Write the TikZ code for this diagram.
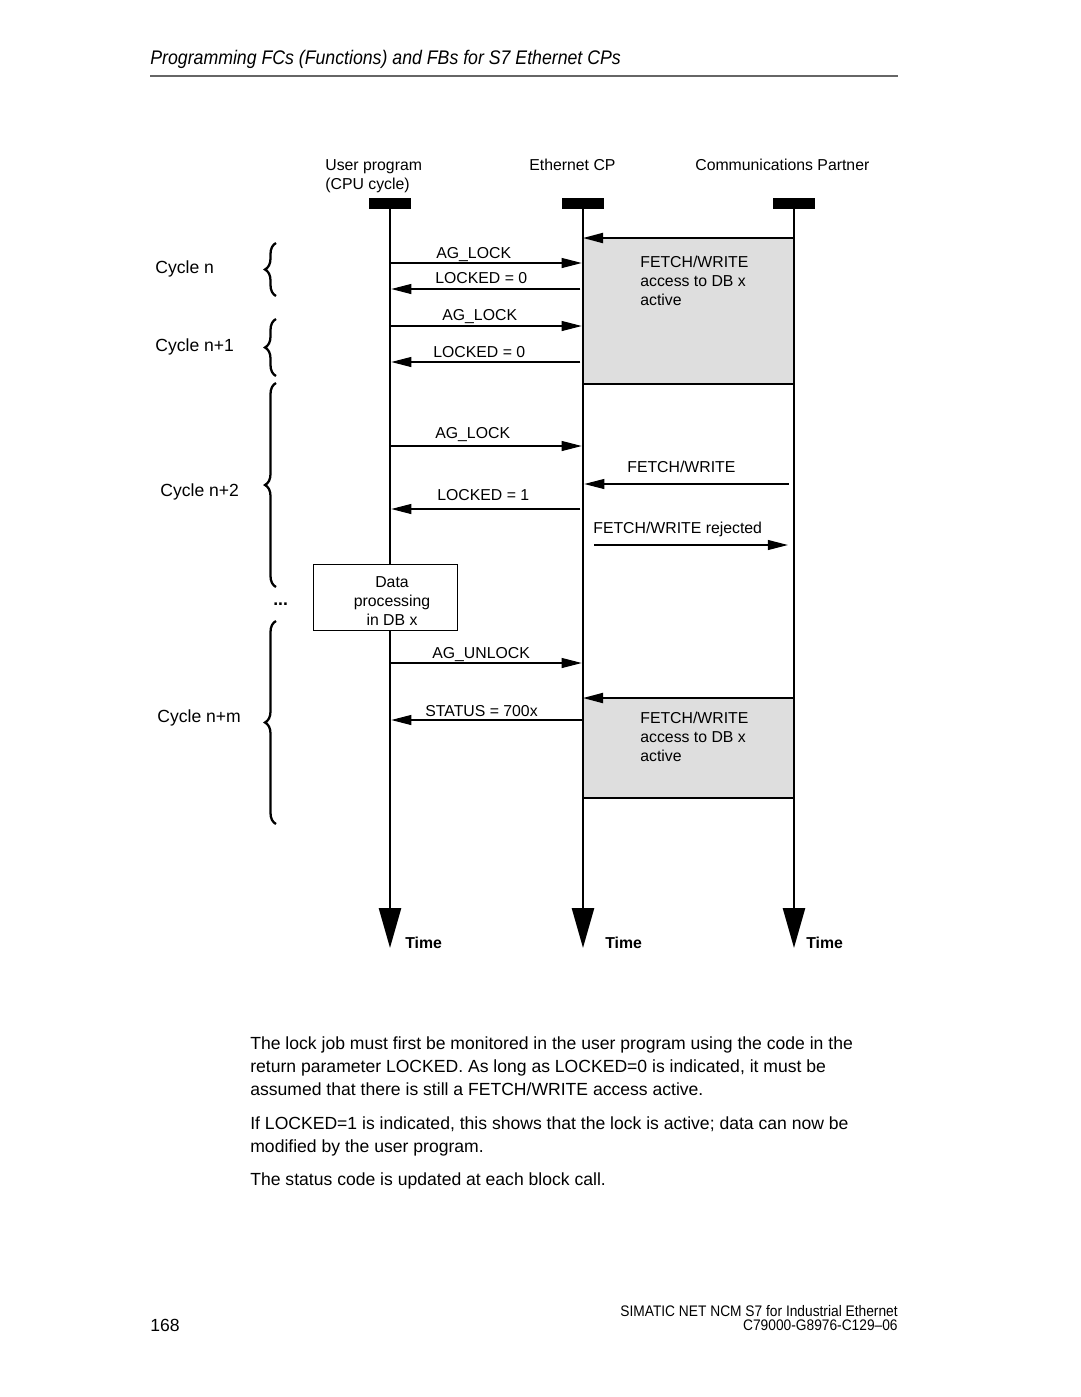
\documentclass[tikz,border=0pt]{standalone}
\usepackage{fontspec}
\setmainfont{Liberation Sans}
\newfontfamily\narrowsans[FakeStretch=0.9]{Liberation Sans}
\usetikzlibrary{arrows.meta,decorations.pathreplacing}

\begin{document}
\begin{tikzpicture}[x=0.02cm,y=-0.02cm,>={Triangle[length=0.4cm,width=0.2cm]}]
\tikzset{
    head/.style={%
        fill=black, inner sep=0pt,
        minimum width=0.84cm,
        minimum height=0.22cm
        },
    life/.style={line width=1.5pt, -{Triangle[length=0.8cm,width=0.44cm]}},
    msg/.style={line width=0.6pt, ->, shorten >=0.75pt},
    busy/.style={fill=black!13},
    edge/.style={line width=1.1pt},
    lbl/.style={anchor=base west, inner sep=0pt, font=\fontsize{9pt}{10.8pt}\selectfont},
    tim/.style={lbl, font=\bfseries\fontsize{9pt}{10.8pt}\selectfont},
    cyc/.style={anchor=base west, inner sep=0pt, font=\fontsize{10pt}{12pt}\selectfont},
    brc/.style={decorate, decoration={brace, amplitude=0.22cm}, line width=1.3pt},
    txt/.style={anchor=base west, inner sep=0pt, font=\fontsize{10pt}{13pt}\selectfont},
}
\useasboundingbox (0,0) rectangle (1080,1397);

%%%PAGE HEADER
\node[anchor=base west, inner sep=0pt, font=\narrowsans\itshape\fontsize{11.2pt}{13pt}\selectfont] (title) at (150,64) {Programming FCs (Functions) and FBs for S7 Ethernet CPs};
\draw[black!60, line width=0.8pt] (150,76) -- (898,76);

%%%INSTANCES
\node[lbl] (tuser) at (325,170) {User program};
\node[lbl] (tcpu) at (325,189) {(CPU cycle)};
\node[lbl] (tcp) at (529,170) {Ethernet CP};
\node[lbl] (tpart) at (695,170) {Communications Partner};
\node[head] (user) at (390,203.5) {};
\node[head] (cp) at (583,203.5) {};
\node[head] (partner) at (794,203.5) {};

%%%ACCESS PHASES
\fill[busy] (cp |- 0,238) rectangle (partner |- 0,384);
\fill[busy] (cp |- 0,698) rectangle (partner |- 0,798);
\draw[edge,->] (partner |- 0,238) -- (cp |- 0,238);
\draw[edge] (cp |- 0,384) -- (partner |- 0,384);
\draw[edge,->] (partner |- 0,698) -- (cp |- 0,698);
\draw[edge] (cp |- 0,798) -- (partner |- 0,798);
\node[lbl, align=left, anchor=north west] (acc1) at (640,256) {FETCH/WRITE\\access to DB x\\active};
\node[lbl, align=left, anchor=north west] (acc2) at (640,712) {FETCH/WRITE\\access to DB x\\active};

%%%LIFELINES
\draw[life] (user.south) -- (user |- 0,948);
\draw[life] (cp.south) -- (cp |- 0,948);
\draw[life] (partner.south) -- (partner |- 0,948);
\node[tim] (time1) at (405,948) {Time};
\node[tim] (time2) at (605,948) {Time};
\node[tim] (time3) at (806,948) {Time};

%%%MESSAGES
\draw[msg] (user |- 0,263) -- (cp |- 0,263);
\node[lbl] (m1) at (436,258) {AG\_LOCK};
\draw[msg, shorten <=1.5pt] (cp |- 0,289) -- (user |- 0,289);
\node[lbl] (m2) at (435,283) {LOCKED = 0};
\draw[msg] (user |- 0,326) -- (cp |- 0,326);
\node[lbl] (m3) at (442,320) {AG\_LOCK};
\draw[msg, shorten <=1.5pt] (cp |- 0,362) -- (user |- 0,362);
\node[lbl] (m4) at (433,357) {LOCKED = 0};
\draw[msg] (user |- 0,446) -- (cp |- 0,446);
\node[lbl] (m5) at (435,438) {AG\_LOCK};
\draw[msg, shorten <=3pt] (partner |- 0,484) -- (cp |- 0,484);
\node[lbl] (m6) at (627,472) {FETCH/WRITE};
\draw[msg, shorten <=1.5pt] (cp |- 0,509) -- (user |- 0,509);
\node[lbl] (m7) at (437,500) {LOCKED = 1};
\draw[msg, shorten <=6.5pt, shorten >=3.5pt] (cp |- 0,545) -- (partner |- 0,545);
\node[lbl] (m8) at (593,533) {FETCH/WRITE rejected};
\draw[msg] (user |- 0,663) -- (cp |- 0,663);
\node[lbl] (m9) at (432,658) {AG\_UNLOCK};
\draw[msg] (cp |- 0,720) -- (user |- 0,720);
\node[lbl] (m10) at (425,716) {STATUS = 700x};

%%%DATA PROCESSING
\node[draw, fill=white, line width=0.5pt, inner sep=0pt, minimum width=2.88cm, minimum height=1.32cm] (dproc) at (385,597) {};
\node[align=center, inner sep=0pt, font=\fontsize{9pt}{10.8pt}\selectfont] (dtext) at (392,601) {Data\\processing\\in DB x};

%%%CYCLES
\draw[brc] (276,296) -- (276,243);
\draw[brc] (276,376) -- (276,319);
\draw[brc] (276,587) -- (276,383);
\draw[brc] (276,824) -- (276,621);
\node[cyc] (cn) at (155,273) {Cycle n};
\node[cyc] (cn1) at (155,351) {Cycle n+1};
\node[cyc] (cn2) at (160,496) {Cycle n+2};
\node[cyc] (dots) at (273,605) {\textbf{...}};
\node[cyc] (cnm) at (157,722) {Cycle n+m};

%%%BODY TEXT
\node[txt] (p1a) at (250,1049) {The lock job must first be monitored in the user program using the code in the};
\node[txt] (p1b) at (250,1072) {return parameter LOCKED. As long as LOCKED=0 is indicated, it must be};
\node[txt] (p1c) at (250,1095) {assumed that there is still a FETCH/WRITE access active.};
\node[txt] (p2a) at (250,1129) {If LOCKED=1 is indicated, this shows that the lock is active; data can now be};
\node[txt] (p2b) at (250,1152) {modified by the user program.};
\node[txt] (p3a) at (250,1185) {The status code is updated at each block call.};

%%%FOOTER
\node[txt] (page) at (150,1331) {168};
\node[anchor=base east, inner sep=0pt, font=\narrowsans\fontsize{8.7pt}{10pt}\selectfont] (foot1) at (898,1316) {SIMATIC NET NCM S7 for Industrial Ethernet};
\node[anchor=base east, inner sep=0pt, font=\narrowsans\fontsize{8.7pt}{10pt}\selectfont] (foot2) at (898,1330) {C79000-G8976-C129–06};
\end{tikzpicture}
\end{document}
